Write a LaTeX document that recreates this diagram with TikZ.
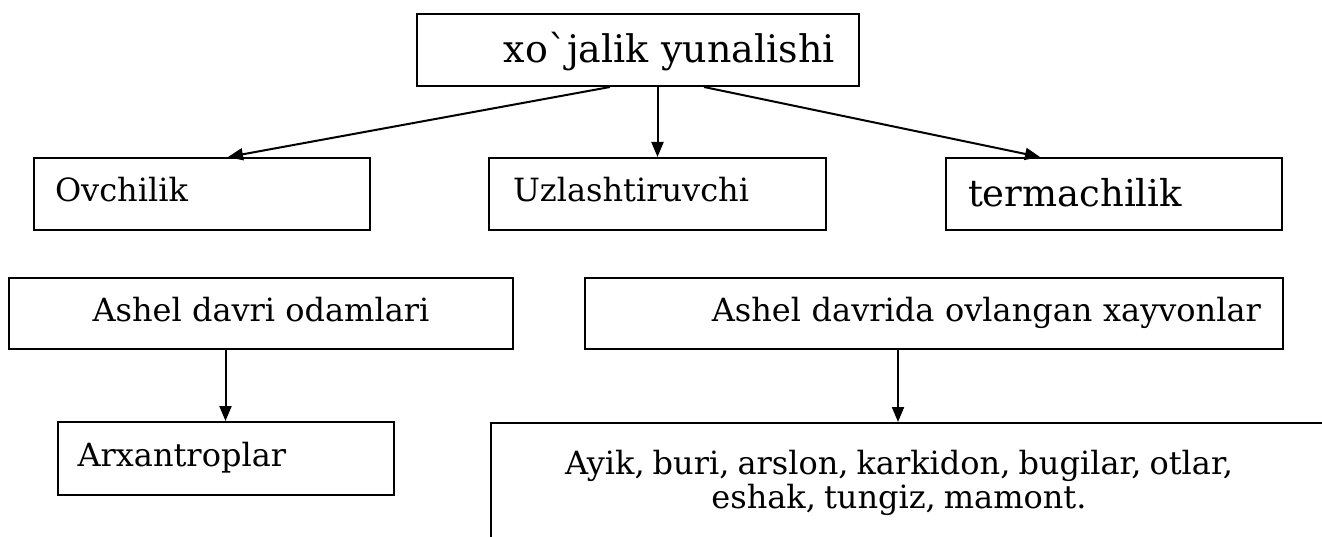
\documentclass[tikz,border=0pt]{standalone}
\usepackage{fontspec}
\newfontfamily\dejavu{DejaVu Serif}
\usepackage{tikz}
\usetikzlibrary{arrows.meta,positioning,calc}

\begin{document}
\begin{tikzpicture}[x=1pt,y=-1pt,line width=2pt,>={Triangle[length=15pt,width=12pt]},
  blok/.style={draw,rectangle,minimum width=336pt,minimum height=72pt,text height=24pt,text depth=8pt,font=\dejavu\fontsize{32}{34}\selectfont}]
\useasboundingbox (0,0) rectangle (1322,537);
\clip (0,0) rectangle (1322,537);
\node[blok,minimum width=442pt,text width=394pt,align=right,inner xsep=24pt,text height=29pt,text depth=3pt,font=\dejavu\fontsize{38}{45}\selectfont] (xojalik) at (638,50) {xo`jalik yunalishi};
\node[blok,text width=294pt,align=left,inner xsep=21pt] (ovchilik) at (202,194) {Ovchilik};
\node[blok,minimum width=337pt,text width=289pt,align=left,inner xsep=24pt] (uzlash) at (657.5,194) {Uzlashtiruvchi};
\node[blok,text width=292pt,align=left,inner xsep=22pt,text height=29pt,text depth=3pt,font=\dejavu\fontsize{37}{44}\selectfont] (termach) at (1114,194) {termachilik};
\node[blok,minimum width=504pt,minimum height=71pt] (odamlar) at (261,313.5) {Ashel davri odamlari};
\node[blok,minimum width=698pt,minimum height=71pt,text width=654pt,align=right,inner xsep=22pt] (xayvon) at (934,313.5) {Ashel davrida ovlangan xayvonlar};
\node[blok,minimum height=73pt,text width=296pt,align=left,inner xsep=20pt] (arxan) at (225.5,458.5) {Arxantroplar};
\node[blok,anchor=north west,text width=880pt,align=left,inner xsep=18pt,inner ysep=27pt,text depth=80pt] (ayik) at (490,422) {\parbox[t]{780pt}{\centering\spaceskip=8pt Ayik, buri, arslon, karkidon, bugilar, otlar,\\ eshak, tungiz, mamont.}};

\draw[->] ($(xojalik.south)+(-28,0)$) -- ($(ovchilik.north)+(26,0)$);
\draw[->] (xojalik.south -| uzlash.north) -- (uzlash.north);
\draw[->] ($(xojalik.south)+(66,0)$) -- ($(termach.north)+(-74,0)$);
\draw[->] (odamlar.south -| arxan.north) -- (arxan.north);
\coordinate (ovlash) at ([xshift=-36pt]xayvon.south);
\draw[->] (ovlash) -- (ovlash |- ayik.north);
\end{tikzpicture}
\end{document}
